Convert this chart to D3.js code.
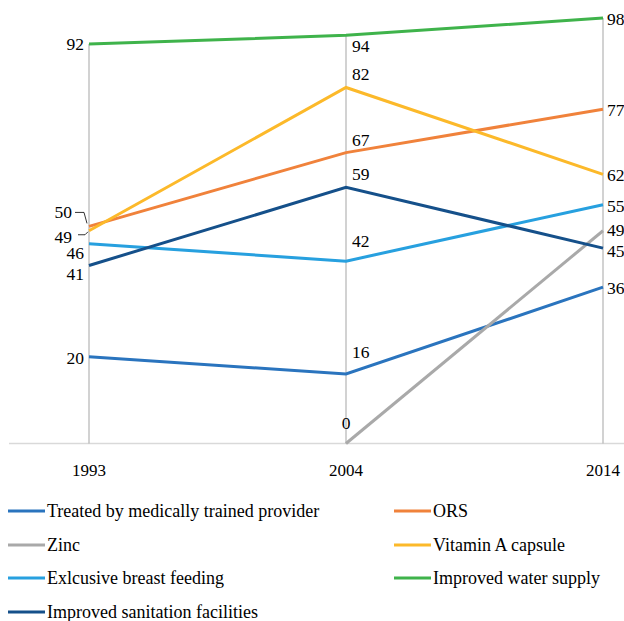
<!DOCTYPE html>
<html><head><meta charset="utf-8">
<script src="https://cdn.jsdelivr.net/npm/d3@7"></script>
</head><body style="margin:0"><svg id="c" width="624" height="621" style="display:block"></svg>
<script>
const years = ["1993", "2004", "2014"];
const seriesNames = ["Treated by medically trained provider", "ORS", "Zinc", "Vitamin A capsule", "Exlcusive breast feeding", "Improved water supply", "Improved sanitation facilities"];
const treated = [20, 16, 36];
const ors = [50, 67, 77];
const zinc = [null, 0, 49];
const vitaminA = [49, 82, 62];
const breastFeeding = [46, 42, 55];
const water = [92, 94, 98];
const sanitation = [41, 59, 45];
const colors = ["#2a74be", "#f0823b", "#a9a9a9", "#fcb92a", "#27a0df", "#3fb34b", "#15508a"];

const FONT = "Liberation Serif";
const seriesValues = [treated, ors, zinc, vitaminA, breastFeeding, water, sanitation];
const svg = d3.select("#c");
const x = d3.scalePoint().domain(years).range([89, 603]);
const y = d3.scaleLinear().domain([0, 98]).range([443.5, 18]);

function txt(sel) {
  return sel.attr("font-family", FONT).style("font-family", "'Liberation Serif', serif", "important");
}

svg.append("line").attr("x1", 9).attr("x2", 624).attr("y1", y(0)).attr("y2", y(0))
  .attr("stroke", "#d9d9d9").attr("stroke-width", 1.5);

years.forEach((yr, i) => {
  const top = d3.max(seriesValues, s => s[i]);
  svg.append("line").attr("x1", x(yr)).attr("x2", x(yr)).attr("y1", y(top)).attr("y2", y(0))
    .attr("stroke", "#b4b4b4").attr("stroke-width", 1.2);
  txt(svg.append("text")).attr("x", x(yr)).attr("y", 476).attr("text-anchor", "middle")
    .attr("font-size", 17).attr("fill", "#000").text(yr);
});

const line = d3.line().defined(d => d.v !== null).x(d => x(d.yr)).y(d => y(d.v));
seriesValues.forEach((s, k) => {
  const pts = s.map((v, i) => ({yr: years[i], v}));
  svg.append("path").datum(pts).attr("d", line).attr("fill", "none")
    .attr("stroke", colors[k]).attr("stroke-width", 3).attr("stroke-linejoin", "miter");
});

const fs = 17.5;
function lab(xp, yp, t, anchor) {
  txt(svg.append("text")).attr("x", xp).attr("y", yp + 6).attr("text-anchor", anchor || "start")
    .attr("font-size", fs).attr("fill", "#000").text(t);
}
const x0 = x(years[0]);
const off1993 = {0: 1, 1: -14, 3: 6, 4: 9, 5: 0, 6: 9};
seriesValues.forEach((s, k) => {
  const v = s[0]; if (v === null) return;
  let yy = y(v) + (off1993[k] || 0);
  let xr = x0 - 5;
  if (k === 1 || k === 3) xr = x0 - 17;
  lab(xr, yy, v, "end");
});
svg.append("path").attr("d", `M${x0-14},${y(50)-14} L${x0-5},${y(50)-14} L${x0-2},${y(50)-3}`)
  .attr("fill", "none").attr("stroke", "#000").attr("stroke-width", 0.8);
svg.append("path").attr("d", `M${x0-11},${y(49)+4} L${x0-4},${y(49)+4} L${x0-1},${y(49)+1}`)
  .attr("fill", "none").attr("stroke", "#000").attr("stroke-width", 0.8);

const x1 = x(years[1]);
seriesValues.forEach((s, k) => {
  const v = s[1]; if (v === null) return;
  if (k === 2) { lab(x1, y(v) - 21, v, "middle"); return; }
  const dy = (k === 5) ? 11 : -13;
  const dd = (k === 4) ? -20 : (k === 0 ? -22 : dy);
  lab(x1 + 6, y(v) + dd, v, "start");
});
const x2 = x(years[2]);
const off2014 = {2: -2, 6: 2};
seriesValues.forEach((s, k) => {
  const v = s[2]; if (v === null) return;
  lab(x2 + 4, y(v) + 1 + (off2014[k] || 0), v, "start");
});

const leg = [[0, 511], [1, 511], [2, 545], [3, 545], [4, 578], [5, 578], [6, 612]];
leg.forEach(([k, yy]) => {
  const col = k % 2 === 0 ? 8 : 394;
  svg.append("line").attr("x1", col).attr("x2", col + 37).attr("y1", yy).attr("y2", yy)
    .attr("stroke", colors[k]).attr("stroke-width", 3);
  txt(svg.append("text")).attr("x", col + 39).attr("y", yy + 6)
    .attr("font-size", 18).attr("fill", "#000").text(seriesNames[k]);
});
</script></body></html>
